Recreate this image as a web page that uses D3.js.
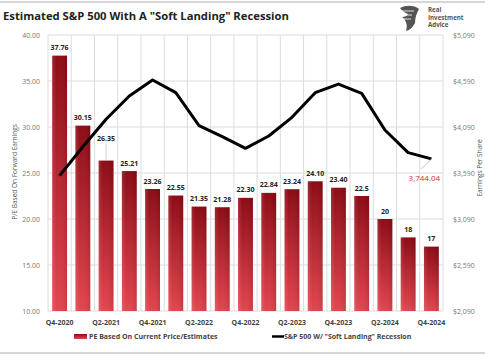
<!DOCTYPE html>
<html><head><meta charset="utf-8">
<script src="https://cdn.jsdelivr.net/npm/d3@7"></script>
<style>body{margin:0;background:#fff}svg{display:block}</style>
</head><body>
<script>
const categories = ["Q4-2020","Q1-2021","Q2-2021","Q3-2021","Q4-2021","Q1-2022","Q2-2022","Q3-2022","Q4-2022","Q1-2023","Q2-2023","Q3-2023","Q4-2023","Q1-2024","Q2-2024","Q3-2024","Q4-2024"];
const peValues = [37.76,30.15,26.35,25.21,23.26,22.55,21.35,21.28,22.30,22.84,23.24,24.10,23.40,22.5,20,18,17];
const peLabels = ["37.76","30.15","26.35","25.21","23.26","22.55","21.35","21.28","22.30","22.84","23.24","24.10","23.40","22.5","20","18","17"];
const spxValues = [3561,3876,4174,4427,4601,4463,4104,3985,3858,3992,4195,4463,4557,4456,4057,3811,3744.04];
const leftTicks = [10,15,20,25,30,35,40];
const rightTicks = [2090,2590,3090,3590,4090,4590,5090];
const xTickLabels = ["Q4-2020","Q2-2021","Q4-2021","Q2-2022","Q4-2022","Q2-2023","Q4-2023","Q2-2024","Q4-2024"];

const W=485,H=356;
const m={l:48,r:42,t:35,b:45};
const svg=d3.select("body").append("svg").attr("width",W).attr("height",H);
const defs=svg.append("defs");
const g1=defs.append("linearGradient").attr("id","barG").attr("x1",0).attr("y1",0).attr("x2",0).attr("y2",1);
g1.append("stop").attr("offset","0%").attr("stop-color","#8c0c16");
g1.append("stop").attr("offset","100%").attr("stop-color","#e4464f");
const g2=defs.append("linearGradient").attr("id","barH").attr("x1",0).attr("y1",0).attr("x2",1).attr("y2",0);
g2.append("stop").attr("offset","0%").attr("stop-color","#fff").attr("stop-opacity",0.12);
g2.append("stop").attr("offset","30%").attr("stop-color","#fff").attr("stop-opacity",0);
g2.append("stop").attr("offset","85%").attr("stop-color","#000").attr("stop-opacity",0.05);
g2.append("stop").attr("offset","100%").attr("stop-color","#000").attr("stop-opacity",0.12);

// frame lines
svg.append("line").attr("x1",0).attr("x2",W).attr("y1",2).attr("y2",2).attr("stroke","#d6d6d6").attr("stroke-width",2);
svg.append("line").attr("x1",0).attr("x2",W).attr("y1",353).attr("y2",353).attr("stroke","#d6d6d6").attr("stroke-width",2);

const x=d3.scaleBand().domain(categories).range([m.l,W-m.r]).paddingInner(0.36).paddingOuter(0.18);
const xb=d3.scaleBand().domain(categories).range([m.l,W-m.r]);
const yL=d3.scaleLinear().domain([10,40]).range([H-m.b,m.t]);
const yR=d3.scaleLinear().domain([2090,5090]).range([H-m.b,m.t]);

// grid
const grid=svg.append("g");
leftTicks.forEach(t=>grid.append("line").attr("x1",m.l).attr("x2",W-m.r).attr("y1",yL(t)).attr("y2",yL(t)).attr("stroke","#dcdcdc").attr("stroke-width",1));
categories.concat(["end"]).forEach((c,i)=>{
  const xx = i<categories.length? xb(c): W-m.r;
  grid.append("line").attr("x1",xx).attr("x2",xx).attr("y1",m.t).attr("y2",H-m.b).attr("stroke","#dcdcdc").attr("stroke-width",1);
});

// axes
const axL=svg.append("g").attr("transform",`translate(${m.l-8},0)`).call(d3.axisLeft(yL).tickValues(leftTicks).tickFormat(d3.format(".2f")).tickSize(0).tickPadding(0));
const axR=svg.append("g").attr("transform",`translate(${W-m.r+10},0)`).call(d3.axisRight(yR).tickValues(rightTicks).tickFormat(d=>"$"+d3.format(",")(d)).tickSize(0).tickPadding(0));
[axL,axR].forEach(a=>{a.select(".domain").remove();a.selectAll("text").attr("font-family","Open Sans, sans-serif").attr("font-size",7).attr("fill","#777");});

const axB=svg.append("g").attr("transform",`translate(0,${H-m.b+9})`).call(d3.axisBottom(xb).tickValues(xTickLabels).tickSize(0).tickPadding(0));
axB.select(".domain").remove();
axB.selectAll("text").attr("font-family","Open Sans, sans-serif").attr("font-size",7).attr("font-weight","bold").attr("fill","#444");

// bars
const bars=svg.append("g");
bars.selectAll("rect.b").data(peValues).join("rect").attr("class","b")
 .attr("x",(d,i)=>x(categories[i])).attr("width",x.bandwidth())
 .attr("y",d=>yL(d)).attr("height",d=>yL(10)-yL(d)).attr("fill","url(#barG)");
bars.selectAll("rect.h").data(peValues).join("rect").attr("class","h")
 .attr("x",(d,i)=>x(categories[i])).attr("width",x.bandwidth())
 .attr("y",d=>yL(d)).attr("height",d=>yL(10)-yL(d)).attr("fill","url(#barH)");

// line
const cx=i=>xb(categories[i])+xb.bandwidth()/2;
svg.append("path").datum(spxValues).attr("fill","none").attr("stroke","#000").attr("stroke-width",3).attr("stroke-linejoin","round")
 .attr("d",d3.line().x((d,i)=>cx(i)).y(d=>yR(d)));

// bar labels
const lbl=svg.append("g");
peValues.forEach((v,i)=>{
  let yy=yL(v)-5.5;
  if(i===2){ yy=yL(v)-20;
    lbl.append("line").attr("x1",cx(i)).attr("x2",cx(i)).attr("y1",yy+3).attr("y2",yL(v)).attr("stroke","#bbb").attr("stroke-width",0.7);
  }
  lbl.append("text").attr("x",cx(i)).attr("y",yy).attr("text-anchor","middle")
   .attr("font-family","Open Sans, sans-serif").attr("font-size",7).attr("font-weight","bold").attr("fill","#222").text(peLabels[i]);
});

// last value label
const li=spxValues.length-1;
svg.append("line").attr("x1",cx(li)-10).attr("y1",yR(spxValues[li])+10).attr("x2",cx(li)).attr("y2",yR(spxValues[li])).attr("stroke","#aaa").attr("stroke-width",0.7);
svg.append("text").attr("x",cx(li)-7).attr("y",yR(spxValues[li])+22).attr("text-anchor","middle")
 .attr("font-family","Open Sans, sans-serif").attr("font-size",8).attr("fill","#c0392b").text(d3.format(",.2f")(spxValues[li]));

// axis titles
svg.append("text").attr("transform",`translate(17,172) rotate(-90)`).attr("text-anchor","middle")
 .attr("font-family","Open Sans, sans-serif").attr("font-size",6.5).attr("fill","#555").text("P/E Based On Forward Earnings");
svg.append("text").attr("transform",`translate(482,168) rotate(-90)`).attr("text-anchor","middle")
 .attr("font-family","Open Sans, sans-serif").attr("font-size",6.5).attr("fill","#555").text("Earnings Per Share");

// title
const title=svg.append("text").attr("x",3).attr("y",20).attr("font-family","Open Sans, sans-serif").attr("font-size",13).attr("font-weight","bold").attr("fill","#222")
 .text('Estimated S&P 500 With A "Soft Landing" Recession');
const tw=title.node().getComputedTextLength();
title.attr("font-size",13*286/tw);

// logo
const lg=svg.append("g").attr("transform","translate(400,5)");
lg.append("path").attr("d","M0,3 C6,0 14,0 19,4 C17,8 15,12 15,18 C13,22 10,25 6,26 C8,20 6,15 2,12 C5,12 7,11 8,9 C5,8 2,6 0,3 Z").attr("fill","#555");
lg.append("path").attr("d","M2,6 L14,6 M1,10 L12,10 M3,14 L11,14").attr("stroke","#fff").attr("stroke-width",0.8);
["Real","Investment","Advice"].forEach((t,i)=>lg.append("text").attr("x",28).attr("y",7+i*7.5).attr("font-family","Open Sans, sans-serif").attr("font-size",6.2).attr("font-weight","bold").attr("fill","#555").text(t));

// legend
const leg=svg.append("g");
leg.append("rect").attr("x",74).attr("y",334).attr("width",13).attr("height",5).attr("fill","url(#barG)");
leg.append("text").attr("x",89).attr("y",339).attr("font-family","Open Sans, sans-serif").attr("font-size",7).attr("font-weight","bold").attr("fill","#444").text("PE Based On Current Price/Estimates");
leg.append("line").attr("x1",272).attr("x2",284).attr("y1",336.5).attr("y2",336.5).attr("stroke","#000").attr("stroke-width",2.5);
leg.append("text").attr("x",284).attr("y",339).attr("font-family","Open Sans, sans-serif").attr("font-size",7).attr("font-weight","bold").attr("fill","#444").text('S&P 500 W/ "Soft Landing" Recession');
</script>
</body></html>
